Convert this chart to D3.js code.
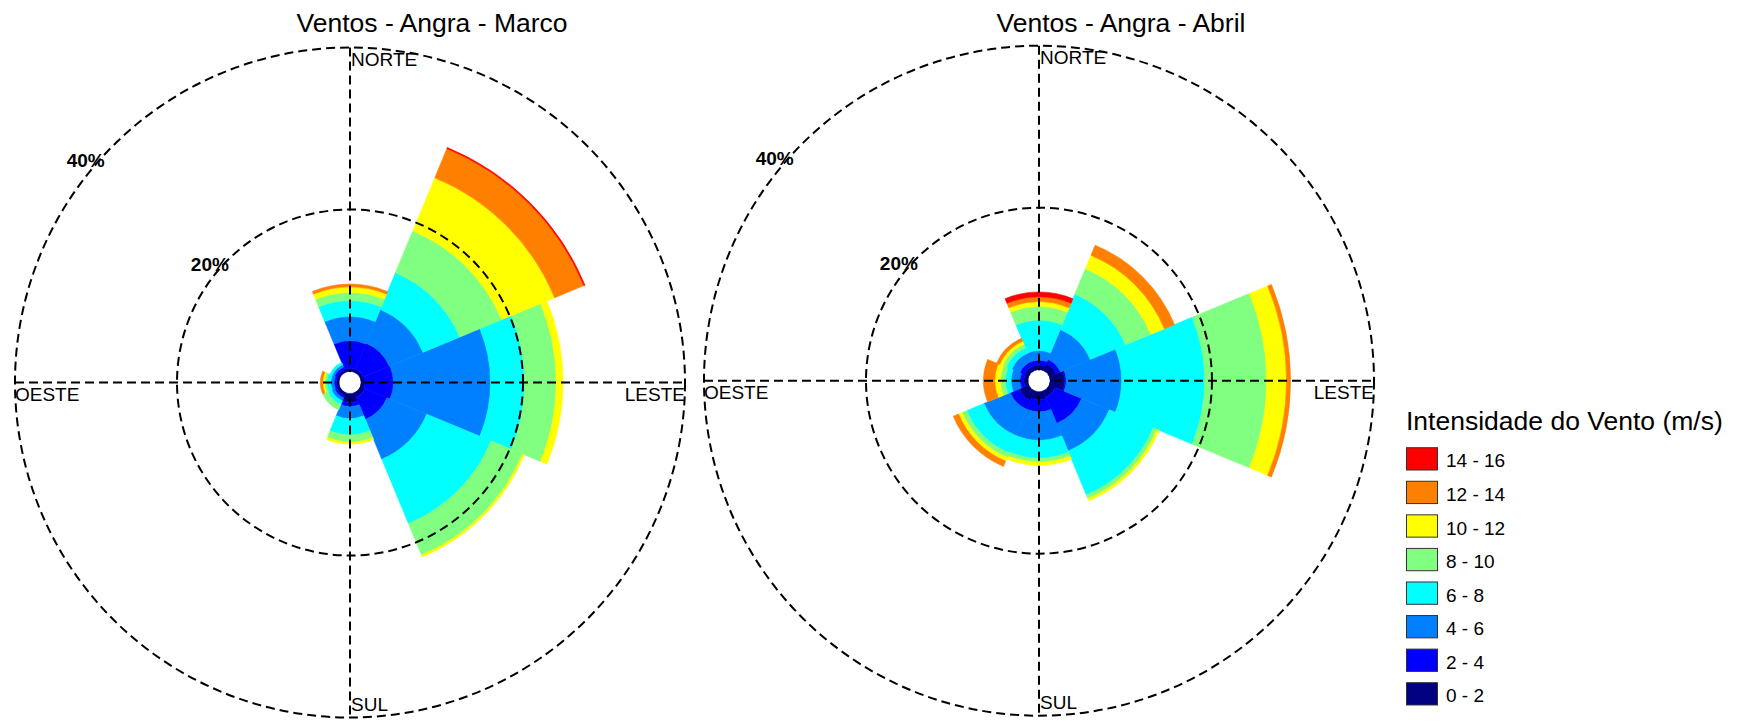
<!DOCTYPE html>
<html><head><meta charset="utf-8">
<script src="https://cdn.jsdelivr.net/npm/d3@7"></script>
<style>
body{margin:0;background:#fff}
svg{display:block}
text{font-family:"Liberation Sans",Arial,sans-serif;fill:#000}
</style>
</head><body>
<svg id="chart" width="1738" height="721"></svg>
<script>
// ---------------- DATA ----------------
const directions = ["N","NE","E","SE","S","SW","W","NW"];
const directionAngles = [0,45,90,135,180,225,270,315];
const speedClasses = ["0 - 2","2 - 4","4 - 6","6 - 8","8 - 10","10 - 12","12 - 14","14 - 16"];
const classColors = ["#000080","#0000ff","#0080ff","#00ffff","#80ff80","#ffff00","#ff8000","#ff0000"];
const compassLabels = ["NORTE","LESTE","SUL","OESTE"];
const ringTicks = [20,40];
const chartTitles = ["Ventos - Angra - Marco","Ventos - Angra - Abril"];
const legendTitle = "Intensidade do Vento (m/s)";

// Frequency (%) of each speed class, by direction N, NE, E, SE, S, SW, W, NW
// Marco
const marco_0_2   = [0.4, 0.4, 0.5, 0.6, 1.1, 0.4, 0.3, 0.3];
const marco_2_4   = [3.4, 3.5, 3.5, 3.0, 0.5, 0.3, 0.3, 0.4];
const marco_4_6   = [3.0, 4.5, 12.0, 5.3, 1.5, 0.4, 0.4, 0.3];
const marco_6_8   = [1.95, 4.9, 4.2, 8.6, 2.0, 0.5, 0.5, 0.3];
const marco_8_10  = [1.0, 5.6, 3.9, 4.2, 0.9, 0.7, 0.3, 0];
const marco_10_12 = [0.7, 7.1, 0.85, 0.25, 0.25, 0, 0.2, 0];
const marco_12_14 = [0.35, 3.9, 0, 0, 0, 0, 0.3, 0];
const marco_14_16 = [0, 0.15, 0, 0, 0, 0, 0, 0];
// Abril
const abril_0_2   = [0.6, 0.9, 1.8, 0.8, 1.0, 1.3, 0.5, 0.6];
const abril_2_4   = [0.6, 0.6, 0.2, 3.55, 1.5, 1.2, 0.5, 0.6];
const abril_4_6   = [1.15, 4.0, 6.85, 3.7, 3.5, 3.5, 1.1, 1.1];
const abril_6_8   = [3.75, 4.7, 10.25, 5.85, 2.2, 2.3, 0.7, 0.7];
const abril_8_10  = [1.7, 3.4, 7.65, 0.5, 0.5, 0.6, 0.6, 0.5];
const abril_10_12 = [0.6, 1.8, 2.45, 0.3, 0.4, 0.5, 0.7, 0.4];
const abril_12_14 = [0.6, 1.35, 0.5, 0, 0, 0.7, 1.4, 0.4];
const abril_14_16 = [0.6, 0, 0, 0, 0, 0, 0, 0];

const marcoSeries = [marco_0_2, marco_2_4, marco_4_6, marco_6_8, marco_8_10, marco_10_12, marco_12_14, marco_14_16];
const abrilSeries = [abril_0_2, abril_2_4, abril_4_6, abril_6_8, abril_8_10, abril_10_12, abril_12_14, abril_14_16];

// ---------------- DRAW ----------------
const svg = d3.select("#chart");
const R0 = 11, R40 = 335;
const rScale = d3.scaleLinear().domain([0, 40]).range([R0, R40]);
const aScale = d3.scaleLinear().domain([0, 360]).range([0, 2 * Math.PI]);
const color = d3.scaleOrdinal().domain(speedClasses).range(classColors);
const sectorHalf = 22.5;

function drawRose(cx, cy, series, title) {
  const g = svg.append("g").attr("transform", `translate(${cx},${cy})`);
  const rows = directions.map((d, i) => {
    const o = {dir: d, angle: directionAngles[i]};
    speedClasses.forEach((c, j) => o[c] = series[j][i]);
    return o;
  });
  const layers = d3.stack().keys(speedClasses)(rows);
  const arc = d3.arc()
    .innerRadius(d => rScale(d[0]))
    .outerRadius(d => rScale(d[1]))
    .startAngle(d => aScale(d.data.angle - sectorHalf))
    .endAngle(d => aScale(d.data.angle + sectorHalf));

  g.selectAll("g.layer").data(layers).join("g").attr("class", "layer")
    .each(function(layer) {
      d3.select(this).selectAll("path")
        .data(layer.filter(d => d[1] - d[0] > 0))
        .join("path")
        .attr("d", arc)
        .attr("fill", color(layer.key))
        .attr("stroke", color(layer.key))
        .attr("stroke-width", 0.6);
    });

  // grid
  const grid = g.append("g").attr("fill", "none").attr("stroke", "#000")
    .attr("stroke-width", 2).attr("stroke-dasharray", "9,5");
  grid.selectAll("circle").data(ringTicks).join("circle").attr("r", d => rScale(d));
  grid.append("line").attr("x1", -R40).attr("x2", R40).attr("y1", 0).attr("y2", 0);
  grid.append("line").attr("y1", -R40).attr("y2", R40).attr("x1", 0).attr("x2", 0);

  // ring labels
  const la = 50 * Math.PI / 180;
  g.selectAll("text.ring").data(ringTicks).join("text").attr("class", "ring")
    .attr("x", d => -(rScale(d) + 10) * Math.sin(la))
    .attr("y", d => -(rScale(d) + 10) * Math.cos(la))
    .attr("text-anchor", "middle").attr("dominant-baseline", "central")
    .attr("font-size", 19).attr("font-weight", "bold")
    .text(d => d + "%");

  // compass labels
  const fs = 19;
  g.append("text").attr("x", 1).attr("y", -R40 + 18.5).attr("font-size", fs).text(compassLabels[0]);
  g.append("text").attr("x", R40).attr("y", 18.5).attr("font-size", fs).attr("text-anchor", "end").text(compassLabels[1]);
  g.append("text").attr("x", 1).attr("y", R40 - 6.5).attr("font-size", fs).text(compassLabels[2]);
  g.append("text").attr("x", -R40).attr("y", 18.5).attr("font-size", fs).text(compassLabels[3]);

  // hole
  g.append("circle").attr("r", 10.5).attr("fill", "#fff");

  // title
  svg.append("text").attr("x", cx + 82).attr("y", 32).attr("text-anchor", "middle")
    .attr("font-size", 26.5).text(title);
}

drawRose(350, 382.5, marcoSeries, chartTitles[0]);
drawRose(1039, 380.7, abrilSeries, chartTitles[1]);

// legend
const lg = svg.append("g").attr("transform", "translate(1406,0)");
lg.append("text").attr("x", 0).attr("y", 430).attr("font-size", 26.5).text(legendTitle);
const legendOrder = speedClasses.slice().reverse();
const ly = d3.scaleBand().domain(legendOrder).range([447.7, 447.7 + 8 * 33.57]);
const items = lg.selectAll("g.item").data(legendOrder).join("g").attr("class", "item")
  .attr("transform", d => `translate(0,${ly(d)})`);
items.append("rect").attr("x", 0.5).attr("y", 0).attr("width", 31).attr("height", 22.3)
  .attr("fill", d => color(d)).attr("stroke", "#333").attr("stroke-width", 1);
items.append("text").attr("x", 40).attr("y", 19.8).attr("font-size", 19).text(d => d);
</script>
</body></html>
